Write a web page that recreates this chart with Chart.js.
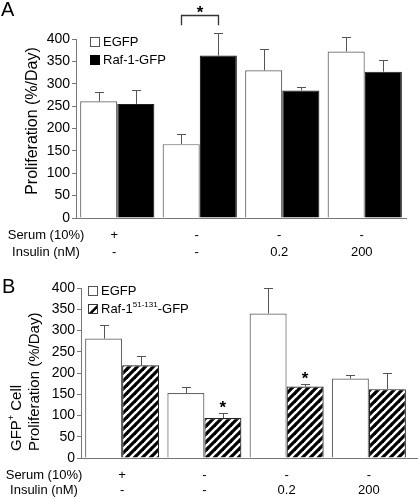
<!DOCTYPE html>
<html>
<head>
<meta charset="utf-8">
<script src="https://cdn.jsdelivr.net/npm/chart.js@4"></script>
<style>
html,body{margin:0;padding:0;background:#fff;}
#wrap{position:relative;width:418px;height:498px;}
canvas{position:absolute;left:0;top:0;}
</style>
</head>
<body>
<div id="wrap">
<canvas id="chartA" width="418" height="498"></canvas>
<canvas id="chartB" width="418" height="498"></canvas>
</div>
<script>
// ---------- data ----------
const groups = ['g1', 'g2', 'g3', 'g4'];
const serumRow = ['+', '-', '-', '-'];
const insulinRow = ['-', '-', '0.2', '200'];
const yTicks = [0, 50, 100, 150, 200, 250, 300, 350, 400];

const egfpA = [261, 165, 330, 372];
const egfpAErr = [20, 23, 48, 32];
const rafA = [255, 363, 285, 327];
const rafAErr = [31, 51, 7, 25];

const egfpB = [281, 153, 340, 187];
const egfpBErr = [31, 15, 61, 8];
const rafB = [218, 94, 168, 162];
const rafBErr = [21, 11, 6, 39];

// significance marks: bracket in A over group 2, stars in B over Raf bars of groups 2 and 3
const bracketA = { group: 1, endValue: 431, topValue: 454, starValue: 470 };
const starsB = [{ group: 1, value: 130 }, { group: 2, value: 198 }];

const FONT = '"Liberation Sans", Arial, Helvetica, sans-serif';

// ---------- hatch pattern ----------
function makeHatch() {
  const s = 8;
  const c = document.createElement('canvas');
  c.width = s; c.height = s;
  const g = c.getContext('2d');
  g.fillStyle = '#fff'; g.fillRect(0, 0, s, s);
  g.strokeStyle = '#000'; g.lineWidth = 3.2;
  [0, s, 2 * s].forEach(k => {
    g.beginPath(); g.moveTo(-1, k + 1); g.lineTo(s + 1, k - s - 1); g.stroke();
  });
  return g.createPattern(c, 'repeat');
}
const hatch = makeHatch();

// ---------- plugins ----------
const errorBars = {
  id: 'errorBars',
  afterDatasetsDraw(chart, args, opts) {
    const ctx = chart.ctx, y = chart.scales.y;
    ctx.save();
    ctx.strokeStyle = '#555'; ctx.lineWidth = 1;
    chart.data.datasets.forEach((ds, di) => {
      const meta = chart.getDatasetMeta(di);
      meta.data.forEach((bar, i) => {
        const top = y.getPixelForValue(ds.data[i] + ds.errors[i]);
        const x = Math.round(bar.x) + 0.5;
        ctx.beginPath();
        ctx.moveTo(x, bar.y); ctx.lineTo(x, Math.round(top) + 0.5);
        ctx.moveTo(x - 4.5, Math.round(top) + 0.5); ctx.lineTo(x + 4.5, Math.round(top) + 0.5);
        ctx.stroke();
      });
    });
    ctx.restore();
  }
};

function drawSegments(ctx, segs, x, y) {
  let cx = x;
  segs.forEach(s => {
    ctx.font = s.size + 'px ' + FONT;
    ctx.fillText(s.t, cx, y + (s.dy || 0));
    cx += ctx.measureText(s.t).width;
  });
}

const decorations = {
  id: 'decorations',
  afterDraw(chart, args, o) {
    const ctx = chart.ctx, xs = chart.scales.x, ys = chart.scales.y;
    ctx.save();
    ctx.fillStyle = '#000';
    // panel letter
    ctx.font = '20px ' + FONT; ctx.textAlign = 'left'; ctx.textBaseline = 'alphabetic';
    ctx.fillText(o.letter, o.letterX, o.letterY);
    // baseline extension
    if (o.extendAxis) {
      ctx.strokeStyle = '#777'; ctx.lineWidth = 1;
      ctx.beginPath();
      ctx.moveTo(chart.chartArea.right, Math.round(chart.chartArea.bottom) + 0.5);
      ctx.lineTo(chart.width, Math.round(chart.chartArea.bottom) + 0.5);
      ctx.stroke();
    }
    // y title (rotated)
    o.yTitle.forEach(line => {
      ctx.save();
      ctx.translate(line.x, line.y);
      ctx.rotate(-Math.PI / 2);
      ctx.textBaseline = 'middle';
      ctx.textAlign = 'left';
      if (line.align === 'center') {
        let w = 0;
        line.segs.forEach(s => { ctx.font = s.size + 'px ' + FONT; w += ctx.measureText(s.t).width; });
        drawSegments(ctx, line.segs, -w / 2, 0);
      } else {
        drawSegments(ctx, line.segs, 0, 0);
      }
      ctx.restore();
    });
    // condition rows
    ctx.font = '13px ' + FONT; ctx.textBaseline = 'middle';
    ctx.textAlign = 'center';
    ctx.fillText('Serum (10%)', o.rowLabelX, o.serumY);
    ctx.fillText('Insulin (nM)', o.rowLabelX, o.insulinY);
    serumRow.forEach((t, i) => ctx.fillText(t, xs.getPixelForValue(i) + o.rowShift, o.serumY));
    insulinRow.forEach((t, i) => ctx.fillText(t, xs.getPixelForValue(i) + o.rowShift, o.insulinY));
    // legend
    ctx.textAlign = 'left'; ctx.textBaseline = 'middle';
    o.legend.forEach((item, k) => {
      const bx = o.legendX, by = o.legendY + k * o.legendGap;
      const sz = 10;
      if (item.kind === 'hatch') {
        ctx.fillStyle = '#fff'; ctx.fillRect(bx, by - sz / 2, sz, sz);
        ctx.save();
        ctx.beginPath(); ctx.rect(bx, by - sz / 2, sz, sz); ctx.clip();
        ctx.fillStyle = '#000';
        ctx.beginPath();
        ctx.moveTo(bx, by + sz / 2); ctx.lineTo(bx + sz, by - sz / 2);
        ctx.lineTo(bx + sz, by + sz / 2); ctx.closePath();
        ctx.fill();
        ctx.fillStyle = '#fff';
        ctx.beginPath();
        ctx.moveTo(bx + sz, by - sz / 2 + 3.5); ctx.lineTo(bx + sz, by + sz / 2); ctx.lineTo(bx + 3.5, by + sz / 2);
        ctx.closePath(); ctx.fill();
        ctx.restore();
        ctx.strokeStyle = '#333'; ctx.lineWidth = 1;
        ctx.strokeRect(bx + 0.5, by - sz / 2 + 0.5, sz - 1, sz - 1);
      } else {
        ctx.fillStyle = item.kind === 'black' ? '#000' : '#fff';
        ctx.fillRect(bx, by - sz / 2, sz, sz);
        ctx.strokeStyle = item.kind === 'black' ? '#000' : '#555'; ctx.lineWidth = 1;
        ctx.strokeRect(bx + 0.5, by - sz / 2 + 0.5, sz - 1, sz - 1);
      }
      ctx.fillStyle = '#000';
      drawSegments(ctx, item.segs, bx + sz + 3, by);
    });
    // significance
    ctx.fillStyle = '#000';
    ctx.font = 'bold 17px ' + FONT; ctx.textAlign = 'center'; ctx.textBaseline = 'alphabetic';
    if (o.bracket) {
      const b = o.bracket;
      const m0 = chart.getDatasetMeta(0).data[b.group], m1 = chart.getDatasetMeta(1).data[b.group];
      const xl = Math.round(m0.x) + 0.5, xr = Math.round(m1.x) + 0.5;
      const yt = Math.round(ys.getPixelForValue(b.topValue)) + 0.5, ye = ys.getPixelForValue(b.endValue);
      ctx.strokeStyle = '#333'; ctx.lineWidth = 1.3;
      ctx.beginPath(); ctx.moveTo(xl, ye); ctx.lineTo(xl, yt); ctx.lineTo(xr, yt); ctx.lineTo(xr, ye); ctx.stroke();
      ctx.fillText('*', (xl + xr) / 2, ys.getPixelForValue(b.starValue) + 10);
    }
    (o.stars || []).forEach(s => {
      const m = chart.getDatasetMeta(1).data[s.group];
      ctx.fillText('*', m.x, ys.getPixelForValue(s.value) + 10);
    });
    ctx.restore();
  }
};

function makeChart(id, cfg) {
  return new Chart(document.getElementById(id), {
    type: 'bar',
    data: {
      labels: groups,
      datasets: [
        { label: 'EGFP', data: cfg.egfp, errors: cfg.egfpErr, backgroundColor: '#fff',
          borderColor: '#666', borderWidth: 1.2, borderSkipped: 'bottom' },
        { label: cfg.rafLabel, data: cfg.raf, errors: cfg.rafErr, backgroundColor: cfg.rafFill,
          borderColor: '#222', borderWidth: 1.2, borderSkipped: 'bottom' }
      ]
    },
    options: {
      responsive: false, animation: false, devicePixelRatio: 1,
      layout: { padding: cfg.padding },
      datasets: { bar: { categoryPercentage: 0.9, barPercentage: 1.0 } },
      scales: {
        x: {
          ticks: { display: false },
          grid: { display: false, drawTicks: false },
          border: { display: true, color: '#777', width: 1 },
          afterFit(s) { s.height = 0; }
        },
        y: {
          min: 0, max: 400,
          afterBuildTicks(s) { s.ticks = yTicks.map(v => ({ value: v })); },
          ticks: { color: '#000', padding: 2, font: { family: FONT, size: 14 } },
          grid: { drawOnChartArea: false, drawTicks: true, tickLength: 4, color: '#777' },
          border: { display: true, color: '#777', width: 1 },
          afterFit(s) { s.width = cfg.yWidth; }
        }
      },
      plugins: { legend: { display: false }, tooltip: { enabled: false }, decorations: cfg.deco }
    },
    plugins: [errorBars, decorations]
  });
}

makeChart('chartA', {
  egfp: egfpA, egfpErr: egfpAErr, raf: rafA, rafErr: rafAErr, rafFill: '#000', rafLabel: 'Raf-1-GFP',
  padding: { top: 39, bottom: 280, left: 0, right: 12 }, yWidth: 76,
  deco: {
    letter: 'A', letterX: 1, letterY: 16,
    yTitle: [{ x: 33, y: 121, align: 'center', size: 16, segs: [{ t: 'Proliferation (%/Day)', size: 16 }] }],
    rowLabelX: 46, serumY: 235, insulinY: 252, rowShift: -3,
    legendX: 90, legendY: 42, legendGap: 18,
    legend: [
      { kind: 'white', segs: [{ t: 'EGFP', size: 13 }] },
      { kind: 'black', segs: [{ t: 'Raf-1-GFP', size: 13 }] }
    ],
    bracket: bracketA
  }
});

makeChart('chartB', {
  egfp: egfpB, egfpErr: egfpBErr, raf: rafB, rafErr: rafBErr, rafFill: hatch, rafLabel: 'Raf-1(51-131)-GFP',
  padding: { top: 288, bottom: 40, left: 0, right: 8 }, yWidth: 81,
  deco: {
    letter: 'B', letterX: 2, letterY: 293, extendAxis: true,
    yTitle: [
      { x: 17, y: 451, align: 'left', segs: [{ t: 'GFP', size: 15 }, { t: '+', size: 9, dy: -5 }, { t: ' Cell', size: 15 }] },
      { x: 35, y: 451, align: 'left', segs: [{ t: 'Proliferation (%/Day)', size: 15 }] }
    ],
    rowLabelX: 44, serumY: 475, insulinY: 490, rowShift: 0,
    legendX: 88, legendY: 291, legendGap: 18,
    legend: [
      { kind: 'white', segs: [{ t: 'EGFP', size: 13 }] },
      { kind: 'hatch', segs: [{ t: 'Raf-1', size: 13 }, { t: '51-131', size: 8, dy: -4 }, { t: '-GFP', size: 13 }] }
    ],
    stars: starsB
  }
});
</script>
</body>
</html>
